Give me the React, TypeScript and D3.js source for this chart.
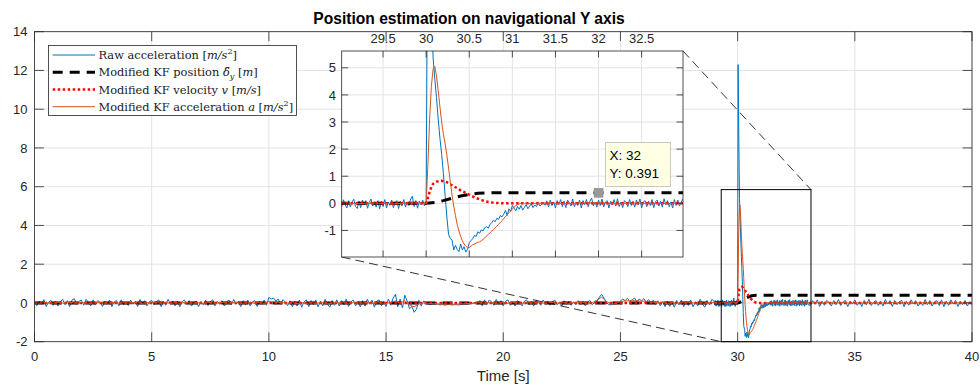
import React from "react";
import * as d3 from "d3";

// ---------- data ----------
// raw acceleration, t = 0.0 .. 28.9 (step 0.1)
const rawCoarse = [
  0.08,-0.14,0.1,-0.06,0.17,-0.18,0.04,0.13,-0.12,0.09,
  -0.16,0.06,0.19,-0.09,0.12,-0.19,0.15,0.22,-0.07,0.09,
  0.15,-0.12,0.18,0.04,-0.15,0.16,-0.09,0.12,0.03,-0.18,
  0.09,-0.06,0.15,-0.19,0.06,0.12,-0.15,0.16,-0.1,0.03,
  -0.13,0.15,-0.07,0.09,-0.18,0.18,-0.04,0.12,-0.15,0.07,
  0.13,-0.1,0.06,0.16,-0.19,0.09,-0.12,0.19,-0.07,0.1,
  -0.15,0.09,-0.2,0.06,0.15,-0.1,0.12,-0.16,0.03,0.09,
  -0.19,0.07,-0.1,0.15,-0.13,0.06,0.16,-0.15,0.09,-0.07,
  0.12,-0.16,0.06,0.15,-0.1,0.18,-0.06,0.09,-0.19,0.12,
  -0.1,0.15,-0.15,0.06,0.12,-0.18,0.09,-0.07,0.15,-0.12,
  0.28,0.2,0.25,0.1,0.2,-0.06,0.17,0.05,-0.14,0.11,
  -0.2,0.09,-0.16,0.15,-0.22,0.06,0.16,-0.19,0.12,-0.09,
  0.15,-0.2,0.09,-0.15,0.18,-0.06,-0.22,0.12,-0.12,0.16,
  -0.16,0.12,-0.09,0.2,-0.18,0.06,0.15,-0.15,0.09,-0.2,
  0.12,-0.16,0.19,-0.06,0.15,-0.22,0.09,0.16,-0.15,0.06,
  -0.18,0.2,-0.12,0.24,0.45,-0.2,0.2,-0.26,0.4,0.1,
  -0.3,-0.18,-0.48,-0.32,0.14,-0.16,0.1,0.03,-0.07,-0.09,
  -0.05,-0.08,-0.06,-0.1,-0.08,-0.11,-0.09,-0.08,-0.1,-0.09,
  -0.09,-0.1,-0.08,-0.07,-0.06,-0.05,-0.04,-0.03,0.04,-0.07,
  0.12,-0.15,0.16,-0.09,0.15,0.06,-0.12,0.18,-0.06,0.12,
  -0.15,0.09,0.16,-0.12,0.06,-0.16,0.12,0.03,-0.15,0.09,
  0.15,-0.09,0.06,-0.16,0.12,0.06,-0.12,0.15,-0.06,0.09,
  -0.12,0.06,0.15,-0.09,0.03,-0.15,0.12,-0.06,0.09,-0.12,
  0.06,-0.09,0.12,-0.06,0.09,-0.15,0.06,0.12,-0.09,0.03,
  0.08,0.3,0.44,0.25,0.02,-0.08,-0.1,-0.06,-0.04,-0.02,
  0.1,0.2,0.12,0.24,0.08,0.17,0.25,0.06,0.2,0.11,
  0.22,0.05,0.17,0.01,0.14,-0.08,0.11,-0.15,0.07,-0.19,
  0.1,-0.18,0.06,-0.22,0.13,-0.1,0.15,-0.19,0.07,-0.13,
  0.15,-0.2,0.06,-0.15,0.19,-0.07,-0.22,0.13,-0.1,0.18,
];
// raw acceleration, t = 29.00 .. 33.00 (step 0.02)
const rawFine = [
  0.08,-0.11,0.13,-0.05,-0.17,0.1,-0.13,0.05,0.15,-0.12,
  -0.19,0.08,-0.16,0.12,-0.05,0.1,-0.18,0.03,0.16,-0.1,
  0.05,-0.14,0.1,-0.2,0.08,-0.12,0.14,-0.17,0.05,-0.08,
  0.12,-0.16,0.03,0.1,-0.19,0.08,-0.1,0.14,-0.14,0.05,
  -0.08,0.16,0.26,-0.12,0.1,-0.18,0.08,-0.05,0.12,-0.09,
  0.0,12.3,9.8,7.5,5.4,4.6,3.9,3.1,2.4,1.8,
  1.1,0.3,-0.5,-1.15,-1.3,-1.35,-1.72,-1.55,-1.7,-1.78,
  -1.5,-1.72,-1.6,-1.8,-1.7,-1.45,-1.38,-1.3,-1.18,-1.22,
  -1.05,-1.1,-0.98,-1.02,-0.9,-0.86,-0.92,-0.78,-0.72,-0.62,
  -0.68,-0.55,-0.6,-0.45,-0.5,-0.4,-0.26,-0.45,-0.2,-0.3,
  -0.08,-0.18,-0.28,-0.12,-0.22,-0.08,-0.25,-0.15,-0.05,-0.2,
  -0.1,-0.02,-0.16,-0.06,-0.12,0.02,-0.1,-0.04,0.03,-0.07,
  0.09,-0.13,0.12,-0.08,0.05,-0.17,0.1,-0.05,0.14,-0.12,
  0.08,-0.16,0.12,0.03,-0.1,0.16,-0.13,0.05,-0.08,0.12,
  -0.17,0.1,-0.05,0.14,-0.12,0.08,0.19,-0.1,0.05,-0.14,
  0.12,-0.08,0.16,-0.13,0.05,0.1,-0.17,0.08,-0.05,0.14,
  -0.1,0.17,-0.12,0.05,-0.16,0.1,0.03,-0.12,0.14,-0.08,
  0.08,-0.14,0.12,-0.05,0.16,-0.17,0.05,0.1,-0.12,0.08,
  -0.08,0.14,-0.16,0.05,0.12,-0.1,0.08,-0.14,0.17,-0.05,
  0.1,-0.12,0.05,-0.17,0.14,-0.08,0.12,-0.1,0.05,0.16,
  -0.08,
];
// raw acceleration, t = 33.1 .. 40.0 (step 0.1)
const rawTail = [
  -0.13,0.12,-0.06,0.16,-0.18,0.09,-0.12,0.13,0.03,
  -0.16,0.12,-0.09,0.18,-0.13,0.06,0.13,-0.19,0.09,-0.06,
  0.16,-0.12,0.06,-0.18,0.13,-0.09,0.19,-0.13,0.03,0.12,
  -0.13,0.09,-0.16,0.18,-0.06,0.12,-0.18,0.13,-0.09,0.06,
  0.13,-0.19,0.09,-0.12,0.16,-0.06,0.12,-0.16,0.06,-0.13,
  0.18,-0.09,0.13,-0.16,0.06,0.12,-0.13,0.16,-0.19,0.09,
  -0.12,0.16,-0.06,0.13,-0.18,0.09,-0.09,0.13,-0.16,0.06,
  -0.09,
];
// KF acceleration, t = 0.0 .. 29.8 (step 0.2)
const kfAccBefore = [
  0.01,-0.02,0.02,0.0,-0.01,0.02,-0.02,0.01,0.02,-0.01,
  0.02,0.0,-0.02,0.01,0.02,-0.01,0.0,0.02,-0.02,0.01,
  -0.01,0.02,0.01,-0.02,0.01,0.0,0.02,-0.01,0.01,-0.02,
  0.01,-0.02,0.02,0.0,-0.01,0.01,-0.02,0.02,0.0,-0.01,
  0.02,-0.01,0.01,0.02,-0.02,0.0,0.01,-0.01,0.02,-0.02,
  0.08,0.06,0.02,0.03,-0.01,0.01,-0.03,0.0,-0.02,0.01,
  -0.02,0.01,0.0,-0.03,0.02,-0.01,0.01,-0.02,0.02,0.0,
  -0.01,0.02,-0.02,0.01,0.0,-0.02,0.03,0.1,-0.02,0.12,
  -0.1,-0.2,-0.05,0.0,-0.02,-0.04,-0.05,-0.06,-0.06,-0.07,
  -0.06,-0.05,-0.04,-0.02,0.0,0.01,-0.01,0.02,0.0,-0.01,
  0.01,-0.02,0.02,0.0,-0.01,0.02,-0.01,0.01,0.0,-0.02,
  0.02,0.0,-0.01,0.01,-0.02,0.01,0.0,0.02,-0.01,0.01,
  0.15,0.3,0.08,-0.06,-0.04,0.08,0.1,0.11,0.12,0.1,
  0.09,0.06,0.03,-0.01,0.02,-0.02,0.01,-0.02,0.01,0.0,
  0.02,-0.02,0.01,-0.01,0.0,0.02,-0.01,0.01,-0.02,0.01,
];
// KF acceleration, t = 29.90 .. 31.30 (step 0.02)
const kfAccEvent = [
  0.01,-0.02,0.01,0.0,-0.01,
  0.0,1.4,3.1,4.3,4.95,5.05,4.7,4.15,3.55,3.0,
  2.55,2.2,1.78,1.3,0.8,0.3,-0.1,-0.45,-0.78,-1.02,
  -1.22,-1.38,-1.5,-1.58,-1.64,-1.63,-1.58,-1.53,-1.5,-1.47,
  -1.44,-1.42,-1.38,-1.33,-1.27,-1.21,-1.15,-1.09,-1.03,-0.97,
  -0.9,-0.84,-0.78,-0.71,-0.64,-0.56,-0.49,-0.42,-0.35,-0.28,
  -0.21,-0.14,-0.09,-0.05,-0.02,0.0,0.01,-0.01,0.02,0.0,
  -0.01,0.01,0.02,-0.01,0.01,0.0,
];
// KF acceleration, t = 31.4 .. 40.0 (step 0.2)
const kfAccAfter = [
  0.02,-0.01,0.01,0.02,-0.02,0.01,0.0,-0.01,0.02,-0.01,
  0.01,-0.02,0.02,0.0,-0.01,0.01,0.02,-0.02,0.01,0.0,
  -0.01,0.02,-0.01,0.01,0.0,-0.02,0.02,0.01,-0.01,0.02,
  -0.02,0.01,0.0,0.02,-0.01,0.01,-0.02,0.02,0.0,-0.01,
  0.01,-0.01,0.02,0.0,
];
const velTimes = [0,30.0,30.02,30.04,30.06,30.08,30.12,30.18,30.24,30.32,30.40,30.48,30.56,30.64,30.72,30.80,30.90,40];
const velValues = [0,0,0.2,0.42,0.6,0.72,0.8,0.83,0.78,0.63,0.48,0.35,0.22,0.12,0.05,0.015,0,0];
const posTimes = [0,30.0,30.1,30.2,30.3,30.4,30.5,30.6,30.7,30.8,40];
const posValues = [0,0,0.03,0.1,0.19,0.27,0.33,0.37,0.385,0.391,0.391];

const mainXTicks = [0,5,10,15,20,25,30,35,40];
const mainYTicks = [-2,0,2,4,6,8,10,12,14];
const insetXTicks = [29.5,30,30.5,31,31.5,32,32.5];
const insetYTicks = [-1,0,1,2,3,4,5];
const zoomBoxX = [29.3, 33.13];
const zoomBoxY = [-2, 5.85];
const tipPoint = [32, 0.391];

const titleText = "Position estimation on navigational Y axis";
const xLabel = "Time [s]";

// ---------- series assembly ----------
type P = [number, number];
const seq = (vals: number[], t0: number, step: number): P[] =>
  vals.map((v, i) => [Math.round((t0 + i * step) * 1000) / 1000, v]);
const rawSeries: P[] = [
  ...seq(rawCoarse, 0, 0.1),
  ...seq(rawFine, 29, 0.02),
  ...seq(rawTail, 33.1, 0.1),
];
const accSeries: P[] = [
  ...seq(kfAccBefore, 0, 0.2),
  ...seq(kfAccEvent, 29.9, 0.02),
  ...seq(kfAccAfter, 31.4, 0.2),
];
const velSeries: P[] = velTimes.map((t, i) => [t, velValues[i]]);
const posSeries: P[] = posTimes.map((t, i) => [t, posValues[i]]);

const BLUE = "#0072BD";
const ORANGE = "#D95319";
const AX = "#262626";
const GRID = "#e3e3e3";
const SANS = "'Liberation Sans', Arial, Helvetica, sans-serif";
const SERIF = "'DejaVu Serif', 'Liberation Serif', serif";

function Plot({ x, y, clip }: { x: d3.ScaleLinear<number, number>; y: d3.ScaleLinear<number, number>; clip: string }) {
  const line = d3.line<P>().x(d => x(d[0])).y(d => y(d[1]));
  return (
    <g clipPath={`url(#${clip})`}>
      <path d={line(rawSeries) || ""} fill="none" stroke={BLUE} strokeWidth={1} strokeLinejoin="round" />
      <path d={line(posSeries) || ""} fill="none" stroke="#000" strokeWidth={3} strokeDasharray="10,7" />
      <path d={line(velSeries) || ""} fill="none" stroke="#ff0000" strokeWidth={2.5} strokeDasharray="2.5,2.5" />
      <path d={line(accSeries) || ""} fill="none" stroke={ORANGE} strokeWidth={1} strokeLinejoin="round" />
    </g>
  );
}

export default function App() {
  const W = 980, H = 385;
  const mx = d3.scaleLinear().domain([0, 40]).range([34.5, 972]);
  const my = d3.scaleLinear().domain([-2, 14]).range([341.7, 31.7]);
  const ix = d3.scaleLinear().domain([29.02, 32.98]).range([341.7, 683]);
  const iy = d3.scaleLinear().domain([-1.98, 5.62]).range([257, 51]);

  const [mL, mR] = mx.range();
  const [mB, mT] = my.range();
  const [iL, iR] = ix.range();
  const [iB, iT] = iy.range();
  const tl = 9.4, itl = 6.5;

  const legendItems = ["raw", "pos", "vel", "acc"];
  const legY = [55, 72.3, 89.5, 106.7];

  return (
    <svg width={W} height={H} style={{ position: "absolute", left: 0, top: 0, background: "#fff" }} fontFamily={SANS}>
      <defs>
        <clipPath id="mainClip"><rect x={mL} y={mT} width={mR - mL} height={mB - mT} /></clipPath>
        <clipPath id="insetClip"><rect x={iL} y={iT} width={iR - iL} height={iB - iT} /></clipPath>
      </defs>
      <rect x={0} y={0} width={W} height={H} fill="#fff" />
      {/* main grid */}
      {mainXTicks.map(t => <line key={"gx" + t} x1={mx(t)} x2={mx(t)} y1={mT} y2={mB} stroke={GRID} strokeWidth={1} />)}
      {mainYTicks.map(t => <line key={"gy" + t} x1={mL} x2={mR} y1={my(t)} y2={my(t)} stroke={GRID} strokeWidth={1} />)}
      <Plot x={mx} y={my} clip="mainClip" />
      {/* main axes box & ticks */}
      <rect x={mL} y={mT} width={mR - mL} height={mB - mT} fill="none" stroke={AX} strokeWidth={0.8} />
      {mainXTicks.map(t => (
        <g key={"tx" + t}>
          <line x1={mx(t)} x2={mx(t)} y1={mB} y2={mB - tl} stroke={AX} strokeWidth={0.8} />
          <line x1={mx(t)} x2={mx(t)} y1={mT} y2={mT + tl} stroke={AX} strokeWidth={0.8} />
          <text x={mx(t)} y={361} textAnchor="middle" fontSize={13} fill={AX}>{t}</text>
        </g>
      ))}
      {mainYTicks.map(t => (
        <g key={"ty" + t}>
          <line x1={mL} x2={mL + tl} y1={my(t)} y2={my(t)} stroke={AX} strokeWidth={0.8} />
          <line x1={mR} x2={mR - tl} y1={my(t)} y2={my(t)} stroke={AX} strokeWidth={0.8} />
          <text x={27.5} y={my(t) + 4.6} textAnchor="end" fontSize={13} fill={AX}>{t}</text>
        </g>
      ))}
      <text x={(mL + mR) / 2} y={381} textAnchor="middle" fontSize={15} fill={AX}>{xLabel}</text>
      <text x={469} y={24} textAnchor="middle" fontSize={15.6} fontWeight="bold" fill="#000">{titleText}</text>

      {/* zoom box and connectors */}
      <rect x={mx(zoomBoxX[0])} y={my(zoomBoxY[1])} width={mx(zoomBoxX[1]) - mx(zoomBoxX[0])} height={my(zoomBoxY[0]) - my(zoomBoxY[1])} fill="none" stroke="#000" strokeWidth={1} />
      <line x1={iR} y1={iT} x2={mx(zoomBoxX[1])} y2={my(zoomBoxY[1])} stroke="#000" strokeWidth={0.8} strokeDasharray="9,5" />
      <line x1={iL} y1={iB} x2={mx(zoomBoxX[0])} y2={my(zoomBoxY[0])} stroke="#000" strokeWidth={0.8} strokeDasharray="9,5" />

      {/* inset */}
      <rect x={iL} y={iT} width={iR - iL} height={iB - iT} fill="#fff" />
      {insetXTicks.map(t => <line key={"igx" + t} x1={ix(t)} x2={ix(t)} y1={iT} y2={iB} stroke={GRID} strokeWidth={1} />)}
      {insetYTicks.map(t => <line key={"igy" + t} x1={iL} x2={iR} y1={iy(t)} y2={iy(t)} stroke={GRID} strokeWidth={1} />)}
      <Plot x={ix} y={iy} clip="insetClip" />
      <rect x={iL} y={iT} width={iR - iL} height={iB - iT} fill="none" stroke={AX} strokeWidth={0.8} />
      {insetXTicks.map(t => (
        <g key={"itx" + t}>
          <line x1={ix(t)} x2={ix(t)} y1={iT} y2={iT + itl} stroke={AX} strokeWidth={0.8} />
          <line x1={ix(t)} x2={ix(t)} y1={iB} y2={iB - itl} stroke={AX} strokeWidth={0.8} />
          <text x={ix(t)} y={43} textAnchor="middle" fontSize={13} fill={AX}>{t}</text>
        </g>
      ))}
      {insetYTicks.map(t => (
        <g key={"ity" + t}>
          <line x1={iL} x2={iL + itl} y1={iy(t)} y2={iy(t)} stroke={AX} strokeWidth={0.8} />
          <line x1={iR} x2={iR - itl} y1={iy(t)} y2={iy(t)} stroke={AX} strokeWidth={0.8} />
          <text x={336} y={iy(t) + 4.6} textAnchor="end" fontSize={13} fill={AX}>{t}</text>
        </g>
      ))}
      {/* data tip */}
      <rect x={ix(tipPoint[0]) - 4.5} y={iy(tipPoint[1]) - 4.5} width={9} height={9} fill="#9a9a9a" stroke="#8a8a8a" strokeWidth={0.5} />
      <rect x={605.5} y={142.5} width={65} height={44} fill="#ffffe6" stroke="#c9c9b8" strokeWidth={1} />
      <text x={609.5} y={160} fontSize={13.5} fill="#000">X: {tipPoint[0]}</text>
      <text x={609.5} y={178} fontSize={13.5} fill="#000">Y: {tipPoint[1]}</text>

      {/* legend */}
      <rect x={48.5} y={45.5} width={248} height={70} fill="#fff" stroke={AX} strokeWidth={0.8} />
      {legendItems.map((kind, i) => {
        const yy = legY[i];
        const sample =
          kind === "raw" ? <line x1={52.7} x2={95} y1={yy} y2={yy} stroke={BLUE} strokeWidth={1} /> :
          kind === "pos" ? <line x1={52.7} x2={95} y1={yy} y2={yy} stroke="#000" strokeWidth={3} strokeDasharray="10,7" /> :
          kind === "vel" ? <line x1={52.7} x2={95} y1={yy} y2={yy} stroke="#ff0000" strokeWidth={2.5} strokeDasharray="2.5,2.5" /> :
          <line x1={52.7} x2={95} y1={yy} y2={yy} stroke={ORANGE} strokeWidth={1} />;
        const label =
          kind === "raw" ? (
            <>Raw acceleration [<tspan fontStyle="italic">m/s</tspan><tspan fontSize={8} dy={-5}>2</tspan><tspan dy={5}>]</tspan></>
          ) : kind === "pos" ? (
            <>Modified KF position <tspan fontStyle="italic">δ̂</tspan><tspan fontStyle="italic" fontSize={8} dy={3}>y</tspan><tspan dy={-3}> [</tspan><tspan fontStyle="italic">m</tspan>]</>
          ) : kind === "vel" ? (
            <>Modified KF velocity <tspan fontStyle="italic">v</tspan> [<tspan fontStyle="italic">m/s</tspan>]</>
          ) : (
            <>Modified KF acceleration <tspan fontStyle="italic">a</tspan> [<tspan fontStyle="italic">m/s</tspan><tspan fontSize={8} dy={-5}>2</tspan><tspan dy={5}>]</tspan></>
          );
        return (
          <g key={"leg" + i}>
            {sample}
            <text x={98.5} y={yy + 4.1} fontFamily={SERIF} fontSize={11.4} fill="#1a1a1a">{label}</text>
          </g>
        );
      })}
    </svg>
  );
}
